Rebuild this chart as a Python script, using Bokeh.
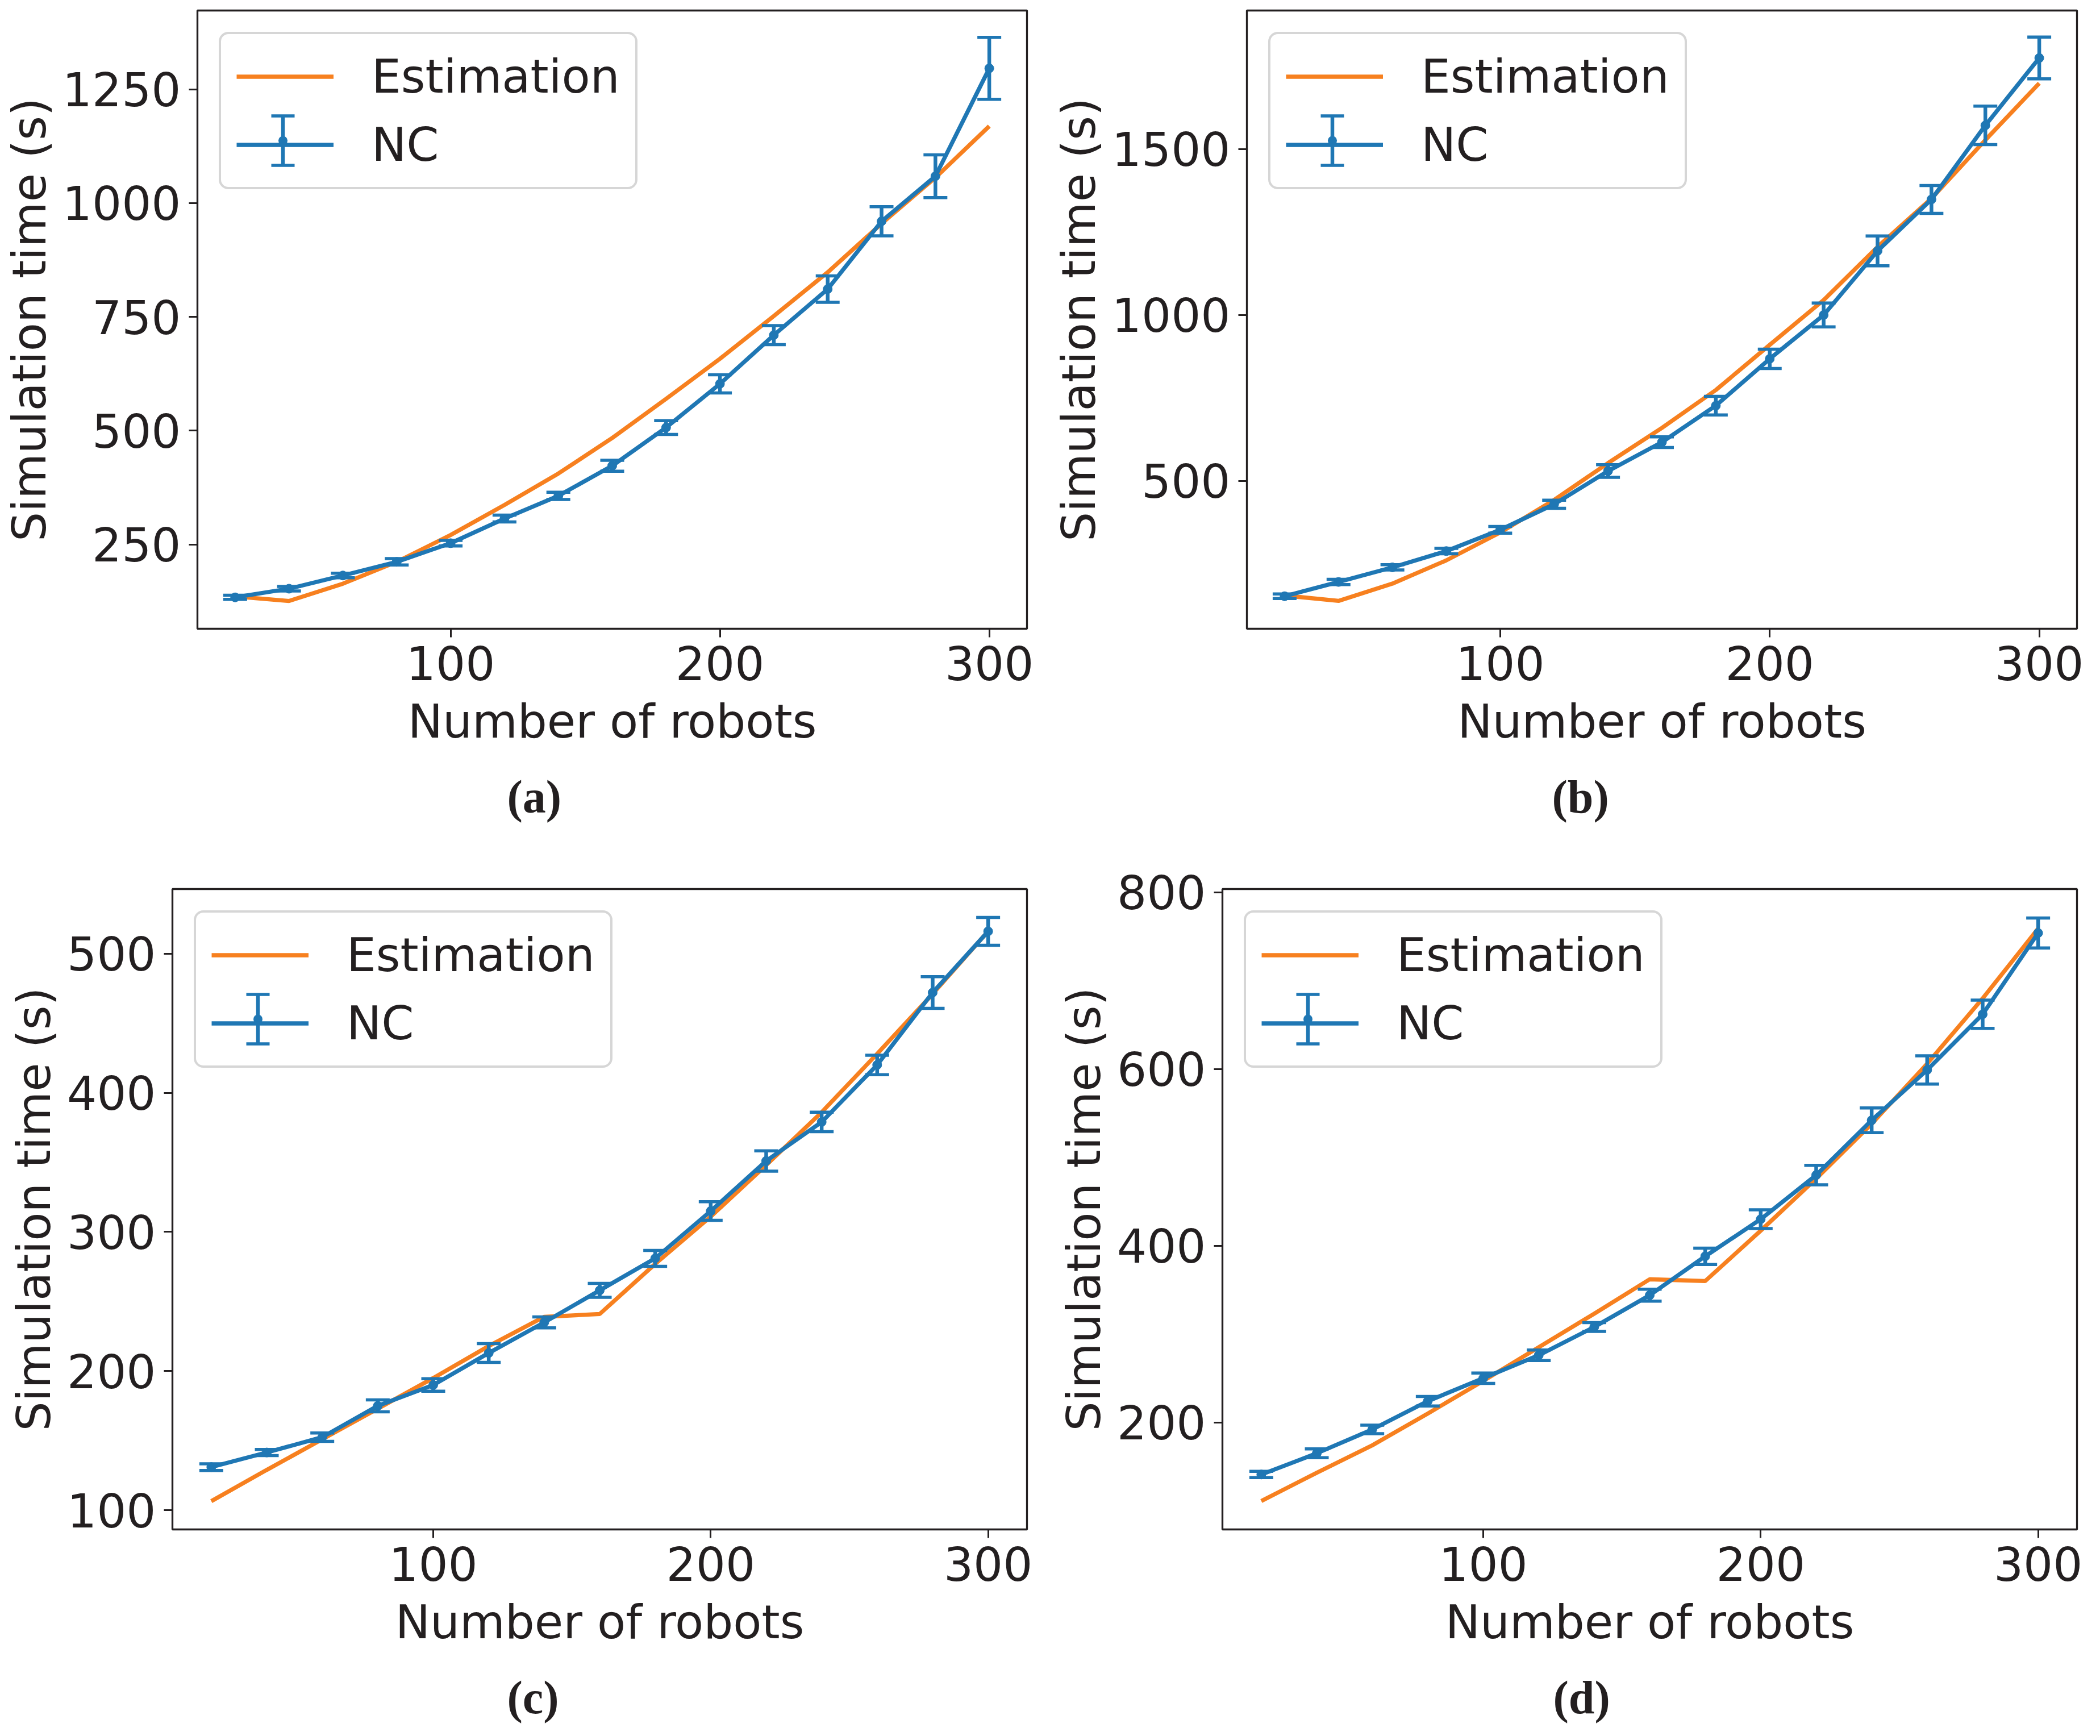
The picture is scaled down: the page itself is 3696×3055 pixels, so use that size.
from bokeh.plotting import figure
from bokeh.models import (Range1d, FixedTicker, ColumnDataSource, Whisker, TeeHead,
                          Legend, LegendItem, Title, BoxAnnotation)
from bokeh.layouts import row, column
from bokeh.embed import file_html
from bokeh.resources import INLINE

robots = [20, 40, 60, 80, 100, 120, 140, 160, 180, 200, 220, 240, 260, 280, 300]

est_a = [136, 126, 164, 212, 271, 337, 406, 484, 570, 658, 752, 848, 955, 1056, 1169]
nc_a = [134, 153, 182, 212, 253, 307, 357, 423, 507, 603, 710, 811, 960, 1059, 1296]
err_a = [4.5, 5, 5, 7, 6, 7.5, 8, 12, 15, 20, 21, 29, 32, 47, 68]

est_b = [155, 139, 191, 261, 345, 443, 554, 660, 774, 910, 1045, 1205, 1351, 1527, 1698]
nc_b = [153, 196, 240, 289, 353, 430, 530, 617, 727, 868, 1000, 1193, 1348, 1571, 1774]
err_b = [7, 8, 8, 8, 10, 12, 19, 16, 28, 29, 36, 45, 42, 58, 63]

est_c = [106.5, 129, 151, 173, 195, 218, 239, 241, 277, 311, 348, 386, 428, 471, 516]
nc_c = [131, 141.5, 152.5, 175, 190, 213, 235, 258, 281, 315, 351, 379, 420, 472, 516]
err_c = [2.4, 2.2, 3, 4.3, 4.5, 6.7, 3.9, 5, 5.7, 6.7, 7.3, 7, 7, 11.4, 10]

est_d = [111, 143, 174, 210, 247, 285, 323, 362, 360, 417, 476, 538, 606, 680, 759]
nc_d = [141, 165, 192, 224, 250, 276, 308, 344, 388, 430, 480, 542, 599, 662, 754]
err_d = [3.5, 5, 4.8, 5.4, 5.8, 6, 5, 6.7, 9.3, 10.6, 11, 14, 16, 16, 17]

x_ticks = [100, 200, 300]
y_ticks_a = [250, 500, 750, 1000, 1250]
y_ticks_b = [500, 1000, 1500]
y_ticks_c = [100, 200, 300, 400, 500]
y_ticks_d = [200, 400, 600, 800]

captions = ["(a)", "(b)", "(c)", "(d)"]
x_label = "Number of robots"
y_label = "Simulation time (s)"
series_names = ["Estimation", "NC"]

BLUE = "#1f77b4"
ORANGE = "#f7801f"
INK = "#231f20"
FONT = "DejaVu Sans"
FS = "82px"

# legend geometry (pixels)
LEG_MARGIN = 38
LEG_PAD = 27
LEG_SPACING = 25
GLYPH_W = 171
GLYPH_H = 87
LABEL_H = 95.5


def make_panel(est, nc, err, yr, yticks, cap, left, fw, right, top, fh, bottom, cap_off):
    p = figure(frame_width=fw, frame_height=fh, min_border_left=left, min_border_right=right,
               min_border_top=top, min_border_bottom=bottom, output_backend="svg",
               toolbar_location=None, tools="", x_range=Range1d(6, 314), y_range=Range1d(*yr))
    p.grid.visible = False
    p.outline_line_color = INK
    p.outline_line_width = 3.3
    p.background_fill_color = "white"
    p.border_fill_color = "white"
    for ax in (p.xaxis[0], p.yaxis[0]):
        ax.axis_line_color = None
        ax.major_tick_out = 15
        ax.major_tick_in = 0
        ax.major_tick_line_width = 3
        ax.major_tick_line_color = INK
        ax.minor_tick_line_color = None
        ax.major_label_text_font = FONT
        ax.major_label_text_font_size = FS
        ax.major_label_text_color = INK
        ax.axis_label_text_font = FONT
        ax.axis_label_text_font_size = FS
        ax.axis_label_text_font_style = "normal"
        ax.axis_label_text_color = INK
    p.xaxis[0].ticker = FixedTicker(ticks=x_ticks)
    p.yaxis[0].ticker = FixedTicker(ticks=yticks)
    p.xaxis[0].axis_label = x_label
    p.yaxis[0].axis_label = y_label
    p.xaxis[0].major_label_standoff = 15
    p.xaxis[0].axis_label_standoff = 22
    p.yaxis[0].major_label_standoff = 14
    p.yaxis[0].axis_label_standoff = 8

    src = ColumnDataSource(data=dict(x=robots, est=est, nc=nc,
                                     lo=[v - e for v, e in zip(nc, err)],
                                     hi=[v + e for v, e in zip(nc, err)]))
    r_est = p.line("x", "est", source=src, line_color=ORANGE, line_width=7.3)
    wh = Whisker(base="x", upper="hi", lower="lo", source=src, dimension="height",
                 line_color=BLUE, line_width=6.5,
                 upper_head=TeeHead(size=42, line_color=BLUE, line_width=5.5),
                 lower_head=TeeHead(size=42, line_color=BLUE, line_width=5.5))
    wh.level = "glyph"
    p.add_layout(wh)
    r_nc = p.line("x", "nc", source=src, line_color=BLUE, line_width=7.3)
    p.scatter("x", "nc", source=src, marker="circle", size=16, fill_color=BLUE, line_color=BLUE)

    # legend box: white background (nothing is drawn under it), light rounded frame
    leg = Legend(items=[LegendItem(label=series_names[0], renderers=[r_est]),
                        LegendItem(label=series_names[1], renderers=[r_nc])],
                 location="top_left", margin=LEG_MARGIN, padding=LEG_PAD, spacing=LEG_SPACING,
                 glyph_width=GLYPH_W, glyph_height=GLYPH_H, label_standoff=67,
                 label_text_font=FONT, label_text_font_size=FS, label_text_color=INK,
                 border_line_color="#d6d6d6", border_line_alpha=1.0, border_line_width=4,
                 background_fill_color="white", background_fill_alpha=0.0)
    try:
        leg.border_radius = 17
    except Exception:
        pass
    p.add_layout(leg)

    # error-bar symbol of the "NC" legend entry (screen units, relative to the frame)
    icon_x = LEG_MARGIN + LEG_PAD + GLYPH_W / 2
    icon_y = fh - (LEG_MARGIN + LEG_PAD + LABEL_H + LEG_SPACING + GLYPH_H / 2)
    icon_src = ColumnDataSource(data=dict(b=[icon_x], lo=[icon_y - GLYPH_H / 2], hi=[icon_y + GLYPH_H / 2]))
    icon = Whisker(base="b", lower="lo", upper="hi", source=icon_src, dimension="height",
                   base_units="screen", lower_units="screen", upper_units="screen",
                   line_color=BLUE, line_width=6.5,
                   upper_head=TeeHead(size=41, line_color=BLUE, line_width=5.5),
                   lower_head=TeeHead(size=41, line_color=BLUE, line_width=5.5))
    icon.level = "overlay"
    p.add_layout(icon)
    dot = BoxAnnotation(left=icon_x - 8, right=icon_x + 8, bottom=icon_y - 8, top=icon_y + 8,
                        left_units="screen", right_units="screen",
                        bottom_units="screen", top_units="screen",
                        fill_color=BLUE, fill_alpha=1.0, line_color=None)
    try:
        dot.border_radius = 8
    except Exception:
        pass
    dot.level = "overlay"
    p.add_layout(dot)

    t = Title(text=cap, align="left", offset=cap_off, text_font="Liberation Serif",
              text_font_style="bold", text_font_size="82px", text_color=INK)
    try:
        t.standoff = 70
    except Exception:
        pass
    p.add_layout(t, "below")
    return p


pa = make_panel(est_a, nc_a, err_a, (65, 1423), y_ticks_a, captions[0], 347, 1460, 33, 18, 1088, 386, 545)
pb = make_panel(est_b, nc_b, err_b, (55, 1917), y_ticks_b, captions[1], 354, 1461, 25, 18, 1088, 386, 537)
pc = make_panel(est_c, nc_c, err_c, (86.2, 546.4), y_ticks_c, captions[2], 303, 1504, 33, 72, 1127, 348, 589)
pd = make_panel(est_d, nc_d, err_d, (78.8, 803.8), y_ticks_d, captions[3], 311, 1504, 25, 72, 1127, 348, 582)

layout = column(row(pa, pb), row(pc, pd))
open("out.html", "w").write(file_html(layout, INLINE))
